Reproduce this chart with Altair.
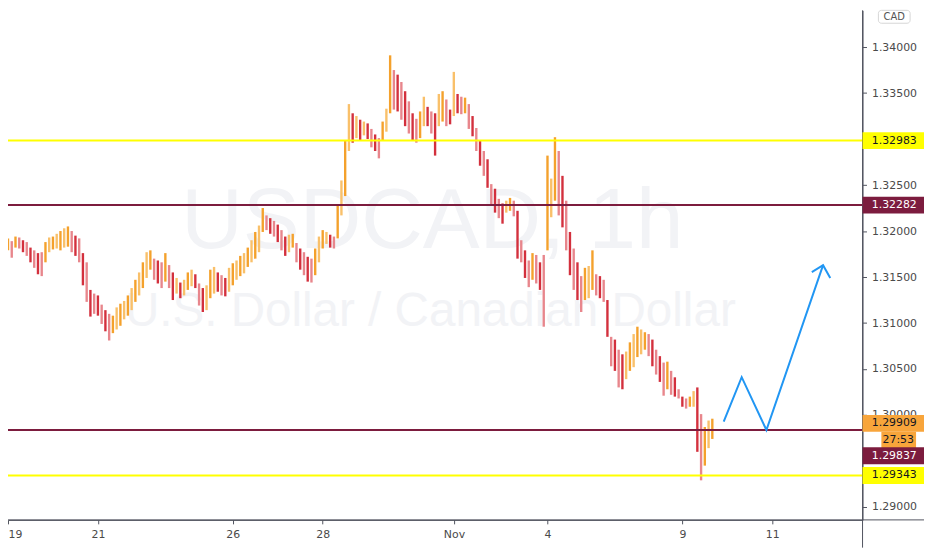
import altair as alt
import pandas as pd

# ---- data (USDCAD, hourly, drawn as high-low bars) ----
highs = [
    1.3192, 1.3189, 1.3194, 1.3193, 1.3190, 1.3188, 1.3182, 1.3179, 1.3176, 1.3177,
    1.3188, 1.3193, 1.3194, 1.3197, 1.3200, 1.3203, 1.3205, 1.3200, 1.3195, 1.3192,
    1.3176, 1.3166, 1.3136, 1.3132, 1.3130, 1.3120, 1.3114, 1.3110, 1.3108, 1.3117,
    1.3121, 1.3124, 1.3130, 1.3138, 1.3147, 1.3155, 1.3166, 1.3177, 1.3179, 1.3170,
    1.3168, 1.3166, 1.3176, 1.3163, 1.3155, 1.3149, 1.3144, 1.3147, 1.3155, 1.3158,
    1.3153, 1.3143, 1.3138, 1.3141, 1.3158, 1.3161, 1.3155, 1.3152, 1.3149, 1.3160,
    1.3165, 1.3168, 1.3173, 1.3176, 1.3182, 1.3190, 1.3199, 1.3206, 1.3225, 1.3217,
    1.3214, 1.3211, 1.3207, 1.3201, 1.3194, 1.3196, 1.3197, 1.3187, 1.3181, 1.3177,
    1.3172, 1.3170, 1.3181, 1.3194, 1.3201, 1.3199, 1.3196, 1.3194, 1.3228, 1.3255,
    1.3298, 1.3338, 1.3328, 1.3325, 1.3321, 1.3319, 1.3317, 1.3311, 1.3305, 1.3301,
    1.3319, 1.3333, 1.3391, 1.3375, 1.3370, 1.3362, 1.3352, 1.3341, 1.3328, 1.3322,
    1.3330, 1.3346, 1.3335, 1.3330, 1.3328, 1.3349, 1.3352, 1.3343, 1.3332, 1.3373,
    1.3349, 1.3346, 1.3345, 1.3338, 1.3325, 1.3312, 1.3298, 1.3287, 1.3278, 1.3251,
    1.3246, 1.3235, 1.3230, 1.3233, 1.3236, 1.3233, 1.3222, 1.3190, 1.3179, 1.3168,
    1.3176, 1.3174, 1.3166, 1.3174, 1.3282, 1.3257, 1.3302, 1.3287, 1.3260, 1.3233,
    1.3199, 1.3181, 1.3166, 1.3151, 1.3160, 1.3162, 1.3179, 1.3153, 1.3151, 1.3147,
    1.3125, 1.3085, 1.3082, 1.3071, 1.3066, 1.3069, 1.3079, 1.3088, 1.3096, 1.3093,
    1.3090, 1.3088, 1.3082, 1.3071, 1.3064, 1.3057, 1.3058, 1.3048, 1.3041, 1.3028,
    1.3020, 1.3018, 1.3020, 1.3026, 1.3030, 1.3001, 1.2987, 1.2994, 1.2996,
]
lows = [
    1.3179, 1.3171, 1.3182, 1.3181, 1.3177, 1.3173, 1.3166, 1.3160, 1.3153, 1.3151,
    1.3166, 1.3177, 1.3180, 1.3181, 1.3179, 1.3182, 1.3183, 1.3177, 1.3173, 1.3166,
    1.3141, 1.3123, 1.3107, 1.3110, 1.3108, 1.3099, 1.3091, 1.3081, 1.3089, 1.3093,
    1.3097, 1.3104, 1.3108, 1.3114, 1.3123, 1.3130, 1.3138, 1.3149, 1.3158, 1.3147,
    1.3143, 1.3138, 1.3145, 1.3138, 1.3125, 1.3132, 1.3127, 1.3130, 1.3136, 1.3140,
    1.3138, 1.3119, 1.3112, 1.3114, 1.3127, 1.3132, 1.3134, 1.3130, 1.3129, 1.3134,
    1.3141, 1.3147, 1.3151, 1.3154, 1.3161, 1.3166, 1.3170, 1.3177, 1.3199, 1.3201,
    1.3197, 1.3194, 1.3188, 1.3179, 1.3173, 1.3177, 1.3182, 1.3166, 1.3158, 1.3152,
    1.3145, 1.3144, 1.3152, 1.3166, 1.3181, 1.3186, 1.3182, 1.3181, 1.3192, 1.3217,
    1.3238, 1.3287, 1.3296, 1.3301, 1.3298, 1.3304, 1.3300, 1.3291, 1.3287, 1.3279,
    1.3298, 1.3308, 1.3328, 1.3332, 1.3330, 1.3321, 1.3314, 1.3306, 1.3298, 1.3296,
    1.3301, 1.3314, 1.3314, 1.3306, 1.3282, 1.3314, 1.3319, 1.3314, 1.3316, 1.3325,
    1.3328, 1.3327, 1.3328, 1.3311, 1.3303, 1.3287, 1.3271, 1.3260, 1.3247, 1.3228,
    1.3220, 1.3214, 1.3208, 1.3220, 1.3222, 1.3216, 1.3170, 1.3166, 1.3149, 1.3139,
    1.3147, 1.3143, 1.3136, 1.3096, 1.3179, 1.3215, 1.3233, 1.3217, 1.3204, 1.3179,
    1.3152, 1.3136, 1.3125, 1.3112, 1.3125, 1.3127, 1.3136, 1.3130, 1.3127, 1.3123,
    1.3085, 1.3053, 1.3048, 1.3030, 1.3028, 1.3039, 1.3048, 1.3052, 1.3063, 1.3066,
    1.3071, 1.3064, 1.3053, 1.3044, 1.3036, 1.3021, 1.3028, 1.3022, 1.3020, 1.3018,
    1.3009, 1.3007, 1.3009, 1.3009, 1.2960, 1.2929, 1.2945, 1.2964, 1.2974,
]
BARS_PER_DAY = 12  # bars per trading day on the time axis

# time axis (trading-day units from Oct 19)
tick_days = [0, 2, 5, 7, 9.92, 12, 15, 17]
tick_labels = ["19", "21", "26", "28", "Nov", "4", "9", "11"]

# price axis
price_ticks = [1.29, 1.295, 1.30, 1.305, 1.31, 1.315, 1.32, 1.325, 1.33, 1.335, 1.34]

# horizontal levels
level_prices = [1.32983, 1.32282, 1.29837, 1.29343]
level_kind = ["support", "pivot", "pivot", "support"]

last_price = 1.29909
countdown = "27:53"

# projected path (blue arrow)
path_days = [15.92, 16.32, 16.87, 18.13]
path_prices = [1.29927, 1.30412, 1.29837, 1.31629]
head_days = [17.88, 18.13, 18.29]
head_prices = [1.31554, 1.31629, 1.31489]

# ---------------------------------------------------------------------------
YELLOW = "#ffff00"
MAROON = "#7c1c3e"
ORANGE = "#f8a53b"
BLUE = "#2196f3"
AXIS = "#50535e"
FONT = "DejaVu Sans"

W, H = 862, 514
x_scale = alt.Scale(domain=[0, 19.008], nice=False, zero=False)
y_scale = alt.Scale(domain=[1.28860, 1.34399], nice=False, zero=False)

n = len(highs)
mids = [(h + l) / 2 for h, l in zip(highs, lows)]
cols = []
for k in range(n):
    up = k == 0 or mids[k] >= mids[k - 1]
    light = k % 2 == 1
    if up:
        cols.append("#f9c06a" if light else "#f4a12c")
    else:
        cols.append("#e8868c" if light else "#d3303d")
bars = pd.DataFrame({"day": [k / BARS_PER_DAY for k in range(n)],
                     "high": highs, "low": lows, "col": cols})

label_expr = "[" + ",".join("'%s'" % t for t in tick_labels) + "][indexof([" + \
    ",".join(str(d) for d in tick_days) + "], datum.value)]"

x_axis = alt.Axis(values=tick_days, labelExpr=label_expr, title=None, grid=False,
                  tickSize=4, labelPadding=5, domainColor=AXIS, tickColor=AXIS,
                  labelColor="#4a4a4a", labelFont=FONT, labelFontSize=11,
                  labelFlush=True)
y_axis = alt.Axis(values=price_ticks, format=".5f", orient="right", title=None,
                  grid=False, tickSize=4, labelPadding=5, domainColor=AXIS,
                  tickColor=AXIS, labelColor="#4a4a4a", labelFont=FONT,
                  labelFontSize=11, labelAlign="left")


def X(field):
    return alt.X(field, scale=x_scale, axis=x_axis, title=None)


def Y(field):
    return alt.Y(field, scale=y_scale, axis=y_axis, title=None)


# watermark
wm1 = alt.Chart(pd.DataFrame({"t": ["USDCAD, 1h"]})).mark_text(
    font="Liberation Sans", fontSize=86, color="#f2f3f6",
    align="center", baseline="middle").encode(
    x=alt.value(428), y=alt.value(214), text="t:N")
wm2 = alt.Chart(pd.DataFrame({"t": ["U.S. Dollar / Canadian Dollar"]})).mark_text(
    font="Liberation Sans", fontSize=48, color="#f2f3f6", align="center",
    baseline="middle").encode(x=alt.value(426), y=alt.value(304), text="t:N")

bar_layer = alt.Chart(bars).mark_rule(strokeWidth=2.4).encode(
    x=X("day:Q"),
    y=Y("high:Q"),
    y2="low:Q",
    color=alt.Color("col:N", scale=None),
)

levels = pd.DataFrame({"price": level_prices, "kind": level_kind})
levels["col"] = [YELLOW if k == "support" else MAROON for k in level_kind]
level_layer = alt.Chart(levels).mark_rule(strokeWidth=2).encode(
    y=Y("price:Q"),
    color=alt.Color("col:N", scale=None),
)

path = pd.DataFrame({"day": path_days, "price": path_prices,
                     "o": list(range(len(path_days)))})
path_layer = alt.Chart(path).mark_line(color=BLUE, strokeWidth=2).encode(
    x=X("day:Q"), y=Y("price:Q"), order="o:Q",
)
head = pd.DataFrame({"day": head_days, "price": head_prices,
                     "o": list(range(len(head_days)))})
head_layer = alt.Chart(head).mark_line(color=BLUE, strokeWidth=2).encode(
    x=X("day:Q"), y=Y("price:Q"), order="o:Q",
)

# price badges on the right axis
half = 8.5 / 9280.0
badge_prices = [level_prices[0], level_prices[1], last_price, level_prices[3]]
badge_bg = [YELLOW, MAROON, ORANGE, YELLOW]
badge_fg = ["#131722", "#ffffff", "#131722", "#131722"]
badges = pd.DataFrame({"price": badge_prices, "bg": badge_bg, "fg": badge_fg})
badges["lo"] = badges["price"] - half
badges["hi"] = badges["price"] + half
badges["label"] = ["%.5f" % p for p in badge_prices]

badge_rect = alt.Chart(badges).mark_rect().encode(
    x=alt.value(862), x2=alt.value(924),
    y=Y("hi:Q"), y2="lo:Q",
    color=alt.Color("bg:N", scale=None),
)
badge_text = alt.Chart(badges).mark_text(font=FONT, fontSize=11, align="center",
                                         baseline="middle").encode(
    x=alt.value(894), y=Y("price:Q"),
    text="label:N", color=alt.Color("fg:N", scale=None),
)

# the lower pivot badge is pushed below the countdown
pv = pd.DataFrame({"price": [level_prices[2]], "label": ["%.5f" % level_prices[2]]})
pv["lo"] = pv["price"] - half
pv["hi"] = pv["price"] + half
pv_rect = alt.Chart(pv).mark_rect(color=MAROON, yOffset=26, y2Offset=26).encode(
    x=alt.value(862), x2=alt.value(924),
    y=Y("hi:Q"), y2="lo:Q",
)
pv_text = alt.Chart(pv).mark_text(font=FONT, fontSize=11, align="center",
                                  baseline="middle", color="#ffffff",
                                  yOffset=26).encode(
    x=alt.value(894), y=Y("price:Q"), text="label:N",
)

cd = pd.DataFrame({"price": [last_price], "label": [countdown]})
cd["lo"] = cd["price"] - half
cd["hi"] = cd["price"] + half
cd_rect = alt.Chart(cd).mark_rect(color=ORANGE, yOffset=17, y2Offset=17).encode(
    x=alt.value(881), x2=alt.value(916),
    y=Y("hi:Q"), y2="lo:Q",
)
cd_text = alt.Chart(cd).mark_text(font=FONT, fontSize=11, align="center",
                                  baseline="middle", color="#131722",
                                  yOffset=17).encode(
    x=alt.value(898), y=Y("price:Q"), text="label:N",
)

# currency badge
cur = pd.DataFrame({"t": ["CAD"]})
cur_rect = alt.Chart(cur).mark_rect(fill="#ffffff", stroke="#d6d6d6",
                                    cornerRadius=3).encode(
    x=alt.value(878), x2=alt.value(910), y=alt.value(0), y2=alt.value(13))
cur_text = alt.Chart(cur).mark_text(font=FONT, fontSize=10, color="#555555",
                                    align="center", baseline="middle").encode(
    x=alt.value(894), y=alt.value(6.5), text="t:N")

# axis lines extended to the page edges
ext = pd.DataFrame({"a": [0]})
ext_v = alt.Chart(ext).mark_rule(color=AXIS, strokeWidth=1).encode(
    x=alt.value(862), y=alt.value(0), y2=alt.value(542))
ext_h = alt.Chart(ext).mark_rule(color=AXIS, strokeWidth=1).encode(
    x=alt.value(0), x2=alt.value(924), y=alt.value(514))

chart = alt.layer(
    wm1, wm2, bar_layer, level_layer, path_layer, head_layer,
    ext_v, ext_h,
    badge_rect, badge_text, cd_rect, cd_text, pv_rect, pv_text,
    cur_rect, cur_text,
).properties(
    width=W, height=H,
    padding={"left": 0, "top": 0, "right": 62, "bottom": 28},
    autosize=alt.AutoSizeParams(type="none"),
    background="#ffffff",
).configure_view(stroke=None)

chart.save("out.html", embed_options={"renderer": "svg", "actions": False})
